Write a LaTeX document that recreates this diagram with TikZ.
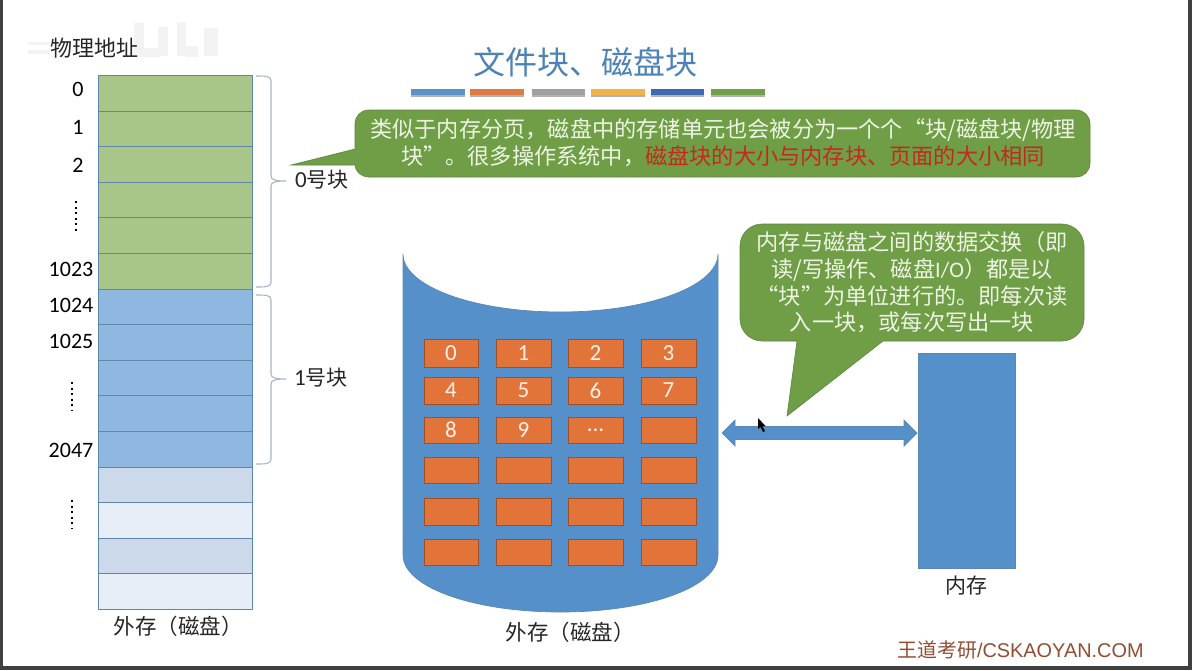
\documentclass[tikz,border=0pt]{standalone}
\usepackage{fontspec}
\usetikzlibrary{shadows}
\setmainfont{Noto Sans CJK SC}
\newfontfamily\numfont{Carlito}
\newfontfamily\footfont{Liberation Sans}
\newcommand{\fs}[1]{\fontsize{#1}{#1}\selectfont}
\definecolor{cyl}{HTML}{5590CA}
\definecolor{org}{HTML}{E2743A}
\definecolor{grn}{HTML}{6F9E46}
\definecolor{edge}{HTML}{5C88AE}
\definecolor{cellg}{HTML}{A9C688}
\definecolor{cellb}{HTML}{90B7E0}
\definecolor{cellc}{HTML}{CCD9EB}
\definecolor{celld}{HTML}{E7EEF7}
\definecolor{brc}{HTML}{A8B6C6}
\definecolor{lighttxt}{HTML}{EEF4E4}
\definecolor{ghost}{HTML}{F3F3F3}
\tikzset{
  memcell/.style={draw=edge,line width=1pt,minimum width=154pt,minimum height=35.6pt,inner sep=0pt,anchor=north west},
  diskcell/.style={draw=org!70!black,line width=0.6pt,fill=org,text=white!90!org,inner sep=0pt,font=\numfont\fs{23}},
  addr/.style={inner sep=0pt,text=black,font=\numfont\fs{22}},
  cjklabel/.style={inner sep=0pt,text=black!85,font=\fs{21}},
  bar/.style={inner sep=0pt,minimum height=6pt},
  callout/.style={fill=grn,draw=grn!85!black,line width=0.6pt},
  brace/.style={draw=brc,line width=1.1pt},
  dots/.style={draw=black,line width=2.2pt,dash pattern=on 2pt off 3.5pt},
}
\begin{document}
\begin{tikzpicture}[x=1pt,y=-1pt]
\useasboundingbox (0,0) rectangle (1192,670);
% frame
\fill[black!75] (0,0) rectangle (1192,670);
\fill[white] (2.5,0) rectangle (1188,666);
% faint ghost marks behind the address heading
\fill[ghost] (28,42) rectangle (50,45);
\fill[ghost] (28,50) rectangle (50,54);
\fill[ghost] (134,23) rectangle (144,50);
\fill[ghost] (134,48) rectangle (160,57);
\fill[ghost] (158,27) rectangle (168,56);
\fill[ghost] (177,22) rectangle (186,56);
\fill[ghost] (186,46) rectangle (198,57);
\fill[ghost] (204,28) rectangle (218,56);
% memory column
\foreach \i/\c in {0/cellg,1/cellg,2/cellg,3/cellg,4/cellg,5/cellg,6/cellb,7/cellb,8/cellb,9/cellb,10/cellb,11/cellc,12/celld,13/cellc,14/celld}{
  \node[memcell,fill=\c] (m\i) at (98,75+35.6*\i) {};
}
% braces
\draw[brace] (256,76) .. controls (266,76) and (271,76) .. (271,81) -- (271,176) .. controls (271,180) and (276,181) .. (286,181) .. controls (276,181) and (271,182) .. (271,186) -- (271,282) .. controls (271,287) and (266,287) .. (256,287);
\draw[brace] (256,295) .. controls (266,295) and (271,295) .. (271,300) -- (271,374) .. controls (271,378) and (276,379) .. (286,379) .. controls (276,379) and (271,380) .. (271,384) -- (271,459) .. controls (271,464) and (266,464) .. (256,464);
% addresses
\node[cjklabel,font=\fs{22}] (phys) at (94,48) {物理地址};
\node[addr] (a0) at (78,89) {0};
\node[addr] (a1) at (78,127) {1};
\node[addr] (a2) at (78,165) {2};
\node[addr] (a3) at (71,269) {1023};
\node[addr] (a4) at (71,305) {1024};
\node[addr] (a5) at (71,341) {1025};
\node[addr] (a6) at (71,450) {2047};
\draw[dots] (76,201) -- (76,231);
\draw[dots] (72,382) -- (72,411);
\draw[dots] (72,500) -- (72,529);
\node[cjklabel] (b0) at (322,180) {{\numfont\fs{23}0}号块};
\node[cjklabel] (b1) at (321,378) {{\numfont\fs{23}1}号块};
\node[cjklabel,font=\fs{21.5}] (ext1) at (178,626) {外存（磁盘）};
% title
\node[inner sep=0pt,text=cyl!90!black,font=\fs{32}] (title) at (585,62) {文件块、磁盘块};
\foreach \n/\x/\w/\c in {1/411/54/5B93C8,2/470/54/DE7B45,3/532/53/A0A0A0,4/591/54/F0B54A,5/651/53/4068B0,6/711/54/72A048}{
  \definecolor{tmpc}{HTML}{\c}
  \fill[black!30] (\x,91) rectangle (\x+\w,96.5);
  \node[bar,fill=tmpc,minimum width=\w pt,anchor=north west] (bar\n) at (\x,89) {};
}
% callout 1
\draw[callout] (369,110) -- (1076,110) .. controls (1084,110) and (1090,116) .. (1090,124) -- (1090,163) .. controls (1090,171) and (1084,177) .. (1076,177) -- (369,177) .. controls (361,177) and (355,171) .. (355,165) -- (291,165) -- (355,149) -- (355,124) .. controls (355,116) and (361,110) .. (369,110) -- cycle;
\node[inner sep=0pt,align=center,text=lighttxt,font=\fontsize{22.2}{27}\selectfont] (c1) at (723,143) {类似于内存分页，磁盘中的存储单元也会被分为一个个“块/磁盘块/物理\\块”。很多操作系统中，\textcolor[HTML]{C42A1C}{磁盘块的大小与内存块、页面的大小相同}};
% cylinder
\path[fill=cyl,draw=edge,line width=0.7pt] (403,254) .. controls (403,286) and (473,312) .. (560.5,312) .. controls (648,312) and (718,286) .. (718,254) -- (718,555) .. controls (718,587) and (648,612) .. (560.5,612) .. controls (473,612) and (403,587) .. (403,555) -- cycle;
\coordinate (cylr) at (722,433);
% disk cells
\foreach \r/\yt/\yb/\lA/\lB/\lC/\lD in {0/339/367/0/1/2/3,1/377/404/4/5/6/7,2/417/443/8/9/{...}/{},3/457/483/{}/{}/{}/{},4/498/525/{}/{}/{}/{},5/539/565/{}/{}/{}/{}}{
  \pgfmathsetmacro{\h}{\yb-\yt}
  \pgfmathsetmacro{\yc}{(\yb+\yt)/2}
  \node[diskcell,minimum width=54pt,minimum height=\h pt] (d\r a) at (451,\yc) {\lA};
  \node[diskcell,minimum width=55pt,minimum height=\h pt] (d\r b) at (523.5,\yc) {\lB};
  \node[diskcell,minimum width=55pt,minimum height=\h pt] (d\r c) at (595.5,\yc) {\lC};
  \node[diskcell,minimum width=55pt,minimum height=\h pt] (d\r d) at (668.5,\yc) {\lD};
}
\node[cjklabel,font=\fs{21.5}] (ext2) at (570,632) {外存（磁盘）};
% memory rectangle
\node[fill=cyl,draw=edge,line width=0.7pt,minimum width=97pt,minimum height=215pt,inner sep=0pt] (ram) at (966.5,460.5) {};
\node[cjklabel] (ramlab) at (966.5,586) {内存};
% double arrow
\coordinate (raml) at (917,433);
\path[fill=cyl,draw=edge,line width=0.7pt] (cylr) -- ++(13,-13) -- ++(0,6.5) -- (904,426.5) -- ++(0,-6.5) -- (raml) -- (904,446) -- ++(0,-6.5) -- (735,439.5) -- ++(0,6.5) -- cycle;
% callout 2
\draw[callout] (762,224) -- (1062,224) .. controls (1074,224) and (1084,234) .. (1084,246) -- (1084,319) .. controls (1084,331) and (1074,341) .. (1062,341) -- (883,341) -- (787,416) -- (797,341) -- (762,341) .. controls (750,341) and (740,331) .. (740,319) -- (740,246) .. controls (740,234) and (750,224) .. (762,224) -- cycle;
\node[inner sep=0pt,align=center,text=lighttxt,font=\fontsize{22.2}{26.6}\selectfont] (c2) at (912,282.5) {内存与磁盘之间的数据交换（即\\读/写操作、磁盘{\numfont I/O}）都是以\\“块”为单位进行的。即每次读\\入一块，或每次写出一块};
% cursor
\fill[black] (758,418) -- (758,429) -- (760.5,427) -- (763,432) -- (765,431) -- (762.5,426.5) -- (765.5,426) -- cycle;
% footer
\node[inner sep=0pt,text={rgb,255:red,146;green,78;blue,52},font=\fs{19.9}] (foot) at (1020.5,650) {王道考研{\footfont /CSKAOYAN.COM}};
\end{tikzpicture}
\end{document}
